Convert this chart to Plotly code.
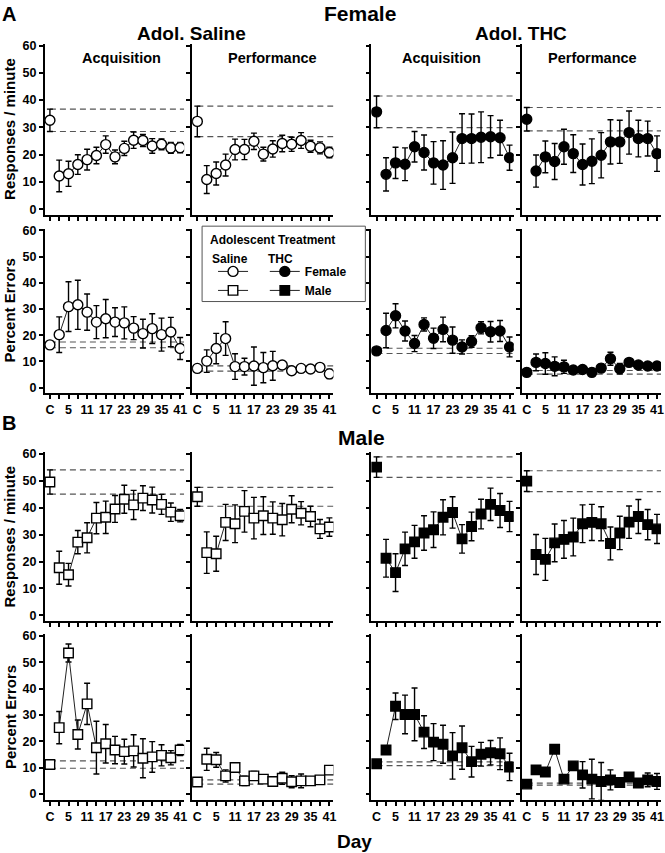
import plotly.graph_objects as go

W, H = 665, 853
FONT = "Liberation Sans"

# ---------------- data ----------------
# session labels: control (C) followed by extinction/test days
days = [-1, 2, 5, 8, 11, 14, 17, 20, 23, 26, 29, 32, 35, 38, 41]   # -1 = "C"
tick_text = ["C", "", "5", "", "11", "", "17", "", "23", "", "29", "", "35", "", "41"]

# Female - responses / minute
f_sal_acq_rate = [32.6, 12.2, 13.0, 16.4, 18.2, 19.7, 23.7, 19.2, 22.3, 25.3, 25.2, 23.2, 23.8, 22.5, 22.6]
f_sal_acq_rate_sem = [4.1, 5.8, 4.6, 3.6, 3.8, 3.0, 3.2, 2.5, 2.6, 3.0, 2.2, 2.7, 2.0, 2.0, 1.9]
f_sal_perf_rate = [32.2, 10.9, 13.1, 16.2, 21.9, 21.9, 24.9, 20.2, 22.1, 24.1, 23.8, 25.2, 23.1, 22.5, 20.8]
f_sal_perf_rate_sem = [5.6, 5.1, 4.2, 4.0, 3.8, 3.7, 3.0, 2.5, 3.0, 3.0, 2.6, 2.9, 2.2, 2.2, 1.9]
f_thc_acq_rate = [35.7, 12.8, 17.0, 16.5, 22.9, 20.8, 17.0, 16.2, 18.9, 25.9, 25.9, 26.4, 26.6, 26.2, 18.9]
f_thc_acq_rate_sem = [5.8, 6.1, 5.7, 6.0, 5.6, 6.4, 7.8, 8.9, 9.4, 9.1, 9.0, 9.3, 7.7, 6.4, 4.6]
f_thc_perf_rate = [33.0, 14.0, 19.2, 17.5, 22.9, 20.4, 16.4, 17.6, 19.8, 24.7, 24.7, 28.1, 25.9, 25.9, 20.4]
f_thc_perf_rate_sem = [4.3, 5.9, 5.8, 6.6, 6.4, 6.9, 7.5, 8.2, 8.3, 8.1, 7.9, 7.9, 6.7, 6.4, 6.5]

# Female - percent errors
f_sal_acq_err = [16.3, 20.2, 30.9, 31.6, 28.8, 25.0, 26.3, 25.0, 24.7, 22.7, 20.6, 22.5, 20.2, 21.2, 14.9]
f_sal_acq_err_sem = [1.1, 6.8, 9.5, 9.4, 6.9, 6.3, 7.3, 5.5, 6.1, 4.4, 5.5, 5.7, 6.3, 5.6, 4.2]
f_sal_perf_err = [7.3, 10.1, 14.9, 18.7, 8.0, 8.0, 8.2, 7.6, 8.3, 8.6, 6.4, 7.3, 7.1, 7.7, 5.2]
f_sal_perf_err_sem = [1.0, 4.3, 5.8, 6.4, 4.9, 3.2, 7.3, 5.8, 5.5, 1.0, 1.0, 0.8, 0.8, 0.8, 1.8]
f_thc_acq_err = [14.0, 21.8, 27.4, 21.6, 16.8, 24.1, 18.8, 22.2, 18.1, 15.5, 17.6, 22.8, 21.3, 21.6, 15.5]
f_thc_acq_err_sem = [1.0, 6.6, 4.6, 3.8, 3.1, 2.5, 3.9, 4.7, 5.0, 2.7, 2.2, 2.3, 3.9, 4.0, 3.8]
f_thc_perf_err = [5.8, 9.6, 9.2, 8.1, 7.9, 6.7, 6.9, 5.8, 7.4, 11.0, 7.2, 9.6, 8.6, 8.2, 8.2]
f_thc_perf_err_sem = [0.7, 3.2, 4.1, 3.6, 2.5, 1.0, 1.0, 1.2, 1.5, 2.5, 2.0, 1.0, 0.8, 0.8, 1.0]

# Male - responses / minute
m_sal_acq_rate = [49.5, 17.7, 15.1, 27.2, 28.8, 36.1, 36.4, 39.5, 43.1, 41.0, 43.5, 42.8, 41.2, 38.3, 37.0]
m_sal_acq_rate_sem = [4.5, 6.1, 4.2, 4.3, 5.6, 5.8, 6.0, 5.0, 5.2, 5.4, 4.6, 4.8, 3.7, 3.4, 2.3]
m_sal_perf_rate = [44.0, 23.3, 22.9, 34.5, 34.0, 38.6, 36.1, 37.0, 36.1, 35.5, 39.4, 37.9, 36.7, 32.1, 32.8]
m_sal_perf_rate_sem = [3.5, 7.7, 6.5, 6.7, 7.0, 7.7, 7.7, 7.0, 6.0, 6.0, 5.0, 4.3, 3.8, 3.5, 3.4]
m_thc_acq_rate = [55.0, 21.2, 15.9, 24.7, 27.3, 30.6, 31.8, 36.4, 38.2, 28.4, 33.0, 37.6, 41.2, 38.9, 36.7]
m_thc_acq_rate_sem = [3.8, 7.0, 7.0, 6.2, 6.1, 6.4, 6.6, 6.5, 5.8, 5.3, 5.3, 5.5, 6.0, 6.3, 5.6]
m_thc_perf_rate = [49.8, 22.6, 20.8, 26.9, 28.2, 29.1, 34.0, 34.5, 34.0, 26.7, 30.6, 34.6, 36.7, 33.7, 32.1]
m_thc_perf_rate_sem = [3.85, 7.4, 7.8, 7.0, 7.0, 7.0, 7.0, 6.7, 6.3, 6.1, 6.2, 6.0, 6.3, 5.6, 5.4]

# Male - percent errors
m_sal_acq_err = [11.2, 25.2, 53.5, 22.6, 34.2, 17.6, 19.1, 16.7, 16.1, 16.4, 13.6, 14.1, 14.7, 13.8, 16.7]
m_sal_acq_err_sem = [1.4, 6.1, 3.4, 5.5, 7.8, 10.0, 7.3, 5.2, 4.7, 6.1, 7.4, 5.8, 4.0, 2.7, 2.1]
m_sal_perf_err = [4.6, 13.2, 13.0, 6.9, 10.1, 5.0, 6.9, 5.7, 4.8, 6.0, 4.7, 5.0, 5.0, 5.4, 9.1]
m_sal_perf_err_sem = [0.8, 4.2, 2.8, 2.3, 1.4, 1.8, 1.7, 1.0, 0.8, 2.3, 2.3, 2.6, 0.9, 1.0, 1.0]
m_thc_acq_err = [11.5, 16.7, 33.3, 30.2, 30.2, 23.5, 19.7, 18.9, 14.5, 17.6, 12.3, 15.1, 15.7, 15.3, 10.3]
m_thc_acq_err_sem = [0.7, 1.0, 5.0, 7.3, 10.0, 6.2, 7.0, 7.2, 8.8, 8.2, 5.8, 4.5, 4.6, 6.0, 5.2]
m_thc_perf_err = [3.8, 9.2, 8.4, 17.0, 5.7, 10.7, 7.3, 5.7, 4.8, 5.4, 4.4, 6.5, 4.2, 5.4, 4.8]
m_thc_perf_err_sem = [0.4, 1.6, 1.2, 1.0, 1.0, 1.5, 5.0, 7.5, 7.2, 3.8, 1.0, 1.0, 0.8, 2.6, 3.0]

# (row, col, group, mean, sem)
panels = [
    (0, 0, "fs", f_sal_acq_rate, f_sal_acq_rate_sem),
    (0, 1, "fs", f_sal_perf_rate, f_sal_perf_rate_sem),
    (0, 2, "ft", f_thc_acq_rate, f_thc_acq_rate_sem),
    (0, 3, "ft", f_thc_perf_rate, f_thc_perf_rate_sem),
    (1, 0, "fs", f_sal_acq_err, f_sal_acq_err_sem),
    (1, 1, "fs", f_sal_perf_err, f_sal_perf_err_sem),
    (1, 2, "ft", f_thc_acq_err, f_thc_acq_err_sem),
    (1, 3, "ft", f_thc_perf_err, f_thc_perf_err_sem),
    (2, 0, "ms", m_sal_acq_rate, m_sal_acq_rate_sem),
    (2, 1, "ms", m_sal_perf_rate, m_sal_perf_rate_sem),
    (2, 2, "mt", m_thc_acq_rate, m_thc_acq_rate_sem),
    (2, 3, "mt", m_thc_perf_rate, m_thc_perf_rate_sem),
    (3, 0, "ms", m_sal_acq_err, m_sal_acq_err_sem),
    (3, 1, "ms", m_sal_perf_err, m_sal_perf_err_sem),
    (3, 2, "mt", m_thc_acq_err, m_thc_acq_err_sem),
    (3, 3, "mt", m_thc_perf_err, m_thc_perf_err_sem),
]

# ---------------- layout geometry (pixels) ----------------
col_px = [(45, 185), (193, 335), (373, 516), (524, 664)]
row_px = [(39.5, 212), (226, 391.5), (451, 621.5), (634.7, 801.5)]  # top, bottom
X_RANGE = [-2.65, 42.3]
Y_RANGE = [-2.2, 60.5]

styles = {
    "fs": dict(symbol="circle", size=10, color="white", name="", legend="legend", show=(0, 0)),
    "ms": dict(symbol="square", size=9.5, color="white", name="", legend="legend", show=(2, 0)),
    "ft": dict(symbol="circle", size=10, color="black", name="Female", legend="legend2", show=(0, 2)),
    "mt": dict(symbol="square", size=9.5, color="black", name="Male", legend="legend2", show=(2, 2)),
}

fig = go.Figure()
layout = {}
shapes = []

for i, (r, c, g, mean, sem) in enumerate(panels):
    k = i + 1
    xa = "x" if k == 1 else f"x{k}"
    ya = "y" if k == 1 else f"y{k}"
    st = styles[g]
    err_kw = dict(type="data", visible=True, color="black", thickness=1.4, width=3)

    # control session (not connected)
    fig.add_trace(go.Scatter(
        x=days[:1], y=mean[:1], mode="markers",
        error_y=dict(err_kw, array=sem[:1]),
        marker=dict(symbol=st["symbol"], size=st["size"], color=st["color"],
                    line=dict(color="black", width=1.4)),
        xaxis=xa, yaxis=ya, showlegend=False, hoverinfo="skip"))
    # daily sessions
    fig.add_trace(go.Scatter(
        x=days[1:], y=mean[1:], mode="lines+markers",
        error_y=dict(err_kw, array=sem[1:]),
        line=dict(color="#222222", width=1),
        marker=dict(symbol=st["symbol"], size=st["size"], color=st["color"],
                    line=dict(color="black", width=1.4)),
        xaxis=xa, yaxis=ya, name=st["name"], legend=st["legend"],
        showlegend=(r, c) == st["show"], hoverinfo="skip"))

    # control mean +/- SEM reference lines
    for yv in (mean[0] + sem[0], mean[0] - sem[0]):
        shapes.append(dict(type="line", xref=xa, yref=ya, x0=days[0], x1=X_RANGE[1],
                           y0=yv, y1=yv, line=dict(color="#555555", width=1.2, dash="6px,4px"),
                           layer="below"))

    x0, x1 = col_px[c]
    t, b = row_px[r]
    layout["xaxis" if k == 1 else f"xaxis{k}"] = dict(
        domain=[x0 / W, x1 / W], anchor=ya, range=X_RANGE,
        tickmode="array", tickvals=days, ticktext=tick_text,
        showticklabels=r in (1, 3), ticks="outside", ticklen=4, tickwidth=1.5, tickcolor="black",
        showline=True, linecolor="black", linewidth=1.6, showgrid=False, zeroline=False,
        tickfont=dict(family=FONT, size=12.5, color="black", weight="bold"), fixedrange=True)
    layout["yaxis" if k == 1 else f"yaxis{k}"] = dict(
        domain=[1 - b / H, 1 - t / H], anchor=xa, range=Y_RANGE,
        tickmode="array", tickvals=[0, 10, 20, 30, 40, 50, 60],
        showticklabels=c == 0, ticks="outside", ticklen=4, tickwidth=1.5, tickcolor="black",
        showline=True, linecolor="black", linewidth=1.6, showgrid=False, zeroline=False,
        tickfont=dict(family=FONT, size=12.5, color="black", weight="bold"), fixedrange=True)

# legend box
shapes.append(dict(type="rect", xref="paper", yref="paper",
                   x0=203 / W, x1=367 / W, y0=1 - 299 / H, y1=1 - 223 / H,
                   line=dict(color="#555555", width=1), fillcolor="white", layer="below"))


def ann(text, x, y, size, xanchor="center", angle=0):
    return dict(text=text, x=x / W, y=1 - y / H, xref="paper", yref="paper",
                xanchor=xanchor, yanchor="middle", showarrow=False, textangle=angle,
                font=dict(family=FONT, size=size, color="black", weight="bold"))


annotations = [
    ann("A", 0, 9, 20, xanchor="left"),
    ann("B", 0, 421, 20, xanchor="left"),
    ann("Female", 362, 9, 21),
    ann("Male", 363, 436, 21),
    ann("Adol. Saline", 192, 29, 19),
    ann("Adol. THC", 523, 29, 19),
    ann("Acquisition", 122, 53, 14.5),
    ann("Performance", 274, 53, 14.5),
    ann("Acquisition", 443, 53, 14.5),
    ann("Performance", 595, 53, 14.5),
    ann("Responses / minute", 10, 125, 15, angle=-90),
    ann("Percent Errors", 10, 308, 15, angle=-90),
    ann("Responses / minute", 10, 536, 15, angle=-90),
    ann("Percent Errors", 10, 718, 15, angle=-90),
    ann("Day", 356, 843, 19),
    ann("Adolescent Treatment", 209, 237, 12, xanchor="left"),
    ann("Saline", 231, 256, 12),
    ann("THC", 282, 256, 12),
]

legend_font = dict(family=FONT, size=12, color="black", weight="bold")
fig.update_layout(
    width=W, height=H, margin=dict(l=0, r=0, t=0, b=0),
    paper_bgcolor="white", plot_bgcolor="rgba(0,0,0,0)",
    shapes=shapes, annotations=annotations,
    legend=dict(x=214 / W, y=1 - 254 / H, xanchor="left", yanchor="top",
                bgcolor="rgba(0,0,0,0)", tracegroupgap=0, font=legend_font),
    legend2=dict(x=266 / W, y=1 - 254 / H, xanchor="left", yanchor="top",
                 bgcolor="rgba(0,0,0,0)", tracegroupgap=0, font=legend_font),
    showlegend=True,
    **layout,
)

post = ("var gd=document.getElementById('{plot_id}');"
        "document.documentElement.style.margin='0';"
        "document.body.style.margin='0';document.body.style.padding='0';"
        "gd.style.position='absolute';gd.style.left='0px';gd.style.top='0px';")
fig.write_html("out.html", post_script=post, config={"displayModeBar": False})
